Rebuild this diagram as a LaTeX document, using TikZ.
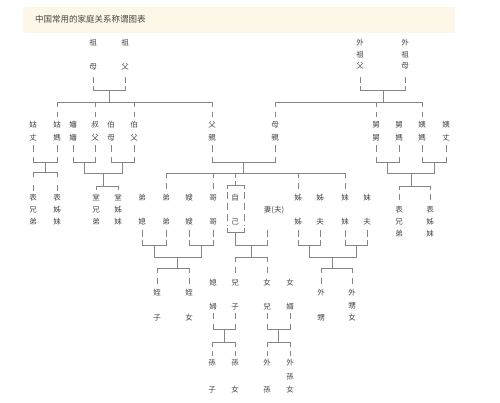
\documentclass[tikz,border=0pt]{standalone}
\usepackage{fontspec}
\newfontfamily\cjk{Noto Sans CJK SC}
\definecolor{band}{HTML}{FCF7E6}
\definecolor{ink}{HTML}{444444}
\definecolor{wire}{HTML}{858585}

\begin{document}
\begin{tikzpicture}[x=1pt,y=-1pt,
    kin/.style={font=\cjk\fontsize{7.5}{9}\selectfont, text=ink, inner sep=0pt, align=center},
    ln/.style={wire, line width=0.6pt}]
        \useasboundingbox (0,0) rectangle (500,403);
        \fill[band] (23,7) rectangle (455,33);
        \node[kin, font=\cjk\fontsize{8.5}{10}\selectfont, anchor=west] (title) at (35,19) {中国常用的家庭关系称谓图表};

        % grandparents
        \node[kin] (zm) at (93,55) {祖\\[15pt]母};
        \node[kin] (zf) at (125,55) {祖\\[15pt]父};
        \node[kin] (wzf) at (360,54.5) {外\\[2.5pt]祖\\[2.5pt]父};
        \node[kin] (wzm) at (405,54.5) {外\\[2.5pt]祖\\[2.5pt]母};

        % parents' generation
        \node[kin] (gz) at (33,131.5) {姑\\[4pt]丈};
        \node[kin] (gm) at (57,131.5) {姑\\[4pt]媽};
        \node[kin] (ss) at (73,131.5) {嬸\\[4pt]嬸};
        \node[kin] (sf) at (95,131.5) {叔\\[4pt]父};
        \node[kin] (bm) at (111,131.5) {伯\\[4pt]母};
        \node[kin] (bf) at (134,131.5) {伯\\[4pt]父};
        \node[kin] (fq) at (212,131.5) {父\\[4pt]親};
        \node[kin] (mq) at (275,131.5) {母\\[4pt]親};
        \node[kin] (jj) at (376,131.5) {舅\\[4pt]舅};
        \node[kin] (jm) at (399,131.5) {舅\\[4pt]媽};
        \node[kin] (ym) at (422,131.5) {姨\\[4pt]媽};
        \node[kin] (yz) at (446,131.5) {姨\\[4pt]丈};

        % cousins
        \node[kin] (bxl) at (33,210) {表\\[3pt]兄\\[3pt]弟};
        \node[kin] (bjl) at (57,210) {表\\[3pt]姊\\[3pt]妹};
        \node[kin] (txd) at (96,210) {堂\\[3pt]兄\\[3pt]弟};
        \node[kin] (tjm) at (118,210) {堂\\[3pt]姊\\[3pt]妹};
        \node[kin] (bxr) at (399,222) {表\\[3pt]兄\\[3pt]弟};
        \node[kin] (bjr) at (430,222) {表\\[3pt]姊\\[3pt]妹};

        % own generation
        \node[kin] (dx) at (142,210) {弟\\[15pt]媳};
        \node[kin] (dd) at (166,210) {弟\\[15pt]弟};
        \node[kin] (sao) at (189,210) {嫂\\[15pt]嫂};
        \node[kin] (gg) at (213,210) {哥\\[15pt]哥};
        \node[kin] (zj) at (235,210) {自\\[15pt]己};
        \node[kin] (qf) at (274,210) {妻(夫)};
        \node[kin] (jz) at (298,210) {姊\\[15pt]姊};
        \node[kin] (jf) at (320,210) {姊\\[15pt]夫};
        \node[kin] (mm) at (345,210) {妹\\[15pt]妹};
        \node[kin] (mf) at (367,210) {妹\\[15pt]夫};

        % children
        \node[kin] (zz) at (157,305.5) {姪\\[16pt]子};
        \node[kin] (zn) at (189,305.5) {姪\\[16pt]女};
        \node[kin] (xf) at (213,295) {媳\\[15pt]婦};
        \node[kin] (ez) at (235,295) {兒\\[15pt]子};
        \node[kin] (ne) at (267,295) {女\\[15pt]兒};
        \node[kin] (nx) at (290,295) {女\\[15pt]婿};
        \node[kin] (ws) at (321,305.5) {外\\[16pt]甥};
        \node[kin] (wsn) at (352,305.5) {外\\[3.5pt]甥\\[3.5pt]女};

        % grandchildren
        \node[kin] (sz) at (212,376.5) {孫\\[18pt]子};
        \node[kin] (sn) at (235,376.5) {孫\\[18pt]女};
        \node[kin] (wsu) at (267,376.5) {外\\[18pt]孫};
        \node[kin] (wsv) at (290,376.5) {外\\[4.5pt]孫\\[4.5pt]女};

        % father's side
        \draw[ln] (zm |- 0,77) -- (zm |- 0,83) (zf |- 0,77) -- (zf |- 0,83);
        \draw[ln] (zm |- 0,86) -- (zm |- 0,90) -- (zf |- 0,90) -- (zf |- 0,86);
        \draw[ln] (109,90) -- (109,102);
        \draw[ln] (gm |- 0,107) -- (gm |- 0,102) -- (fq |- 0,102) -- (fq |- 0,107);
        \draw[ln] (sf |- 0,102) -- (sf |- 0,107) (bf |- 0,102) -- (bf |- 0,107);
        \draw[ln] (gm |- 0,112) -- (gm |- 0,117) (sf |- 0,112) -- (sf |- 0,117)
                  (bf |- 0,112) -- (bf |- 0,117) (fq |- 0,112) -- (fq |- 0,117);

        % mother's side
        \draw[ln] (wzf |- 0,77) -- (wzf |- 0,83) (wzm |- 0,77) -- (wzm |- 0,83);
        \draw[ln] (wzf |- 0,86) -- (wzf |- 0,90) -- (wzm |- 0,90) -- (wzm |- 0,86);
        \draw[ln] (383,90) -- (383,102);
        \draw[ln] (mq |- 0,107) -- (mq |- 0,102) -- (ym |- 0,102) -- (ym |- 0,107);
        \draw[ln] (jj |- 0,102) -- (jj |- 0,107);
        \draw[ln] (mq |- 0,112) -- (mq |- 0,117) (jj |- 0,112) -- (jj |- 0,117) (ym |- 0,112) -- (ym |- 0,117);

        % couples of the parents' generation
        \draw[ln] (gz |- 0,145) -- (gz |- 0,152) (gm |- 0,145) -- (gm |- 0,152)
                  (ss |- 0,145) -- (ss |- 0,152) (sf |- 0,145) -- (sf |- 0,152)
                  (bm |- 0,145) -- (bm |- 0,152) (bf |- 0,145) -- (bf |- 0,152)
                  (fq |- 0,145) -- (fq |- 0,152) (mq |- 0,145) -- (mq |- 0,152)
                  (jj |- 0,145) -- (jj |- 0,152) (jm |- 0,145) -- (jm |- 0,152)
                  (ym |- 0,145) -- (ym |- 0,152) (yz |- 0,145) -- (yz |- 0,152);
        \draw[ln] (gz |- 0,157) -- (gz |- 0,162) -- (gm |- 0,162) -- (gm |- 0,157);
        \draw[ln] (ss |- 0,157) -- (ss |- 0,162) -- (sf |- 0,162) -- (sf |- 0,157);
        \draw[ln] (bm |- 0,157) -- (bm |- 0,162) -- (bf |- 0,162) -- (bf |- 0,157);
        \draw[ln] (fq |- 0,157) -- (fq |- 0,162) -- (mq |- 0,162) -- (mq |- 0,157);
        \draw[ln] (jj |- 0,157) -- (jj |- 0,162) -- (jm |- 0,162) -- (jm |- 0,157);
        \draw[ln] (ym |- 0,157) -- (ym |- 0,162) -- (yz |- 0,162) -- (yz |- 0,157);

        % cousins
        \draw[ln] (45,162) -- (45,172);
        \draw[ln] (bxl |- 0,177) -- (bxl |- 0,172) -- (bjl |- 0,172) -- (bjl |- 0,177);
        \draw[ln] (bxl |- 0,185) -- (bxl |- 0,191) (bjl |- 0,185) -- (bjl |- 0,191);
        \draw[ln] (84,162) -- (84,173) -- (122.5,173) -- (122.5,162);
        \draw[ln] (103,173) -- (103,186);
        \draw[ln] (txd |- 0,190) -- (txd |- 0,186) -- (tjm |- 0,186) -- (tjm |- 0,190);
        \draw[ln] (387.5,162) -- (387.5,173) -- (434,173) -- (434,162);
        \draw[ln] (411,173) -- (411,186);
        \draw[ln] (bxr |- 0,190) -- (bxr |- 0,186) -- (bjr |- 0,186) -- (bjr |- 0,190);
        \draw[ln] (bxr |- 0,194) -- (bxr |- 0,200) (bjr |- 0,194) -- (bjr |- 0,200);

        % brothers and sisters
        \draw[ln] (243.5,162) -- (243.5,173);
        \draw[ln] (dd |- 0,178) -- (dd |- 0,173) -- (mm |- 0,173) -- (mm |- 0,178);
        \draw[ln] (gg |- 0,173) -- (gg |- 0,178) (zj |- 0,173) -- (zj |- 0,178) (jz |- 0,173) -- (jz |- 0,178);
        \draw[ln] (dd |- 0,183) -- (dd |- 0,189) (gg |- 0,183) -- (gg |- 0,189)
                  (jz |- 0,183) -- (jz |- 0,189) (mm |- 0,183) -- (mm |- 0,189);
        \draw[ln] (zj |- 0,181) -- (zj |- 0,185);
        \draw[ln] (227,189) -- (227,185) -- (244,185) -- (244,189);
        \draw[ln] (227,228) -- (227,232) -- (244,232) -- (244,228);
        \draw[ln, dash pattern=on 7pt off 4pt] (227,192) -- (227,226) (244,192) -- (244,226);

        % couples of the own generation
        \draw[ln] (dx |- 0,230) -- (dx |- 0,237) (dd |- 0,230) -- (dd |- 0,237)
                  (sao |- 0,230) -- (sao |- 0,237) (gg |- 0,230) -- (gg |- 0,237)
                  (267,230) -- (267,237)
                  (jz |- 0,230) -- (jz |- 0,237) (jf |- 0,230) -- (jf |- 0,237)
                  (mm |- 0,230) -- (mm |- 0,237) (mf |- 0,230) -- (mf |- 0,237);
        \draw[ln] (dx |- 0,240) -- (dx |- 0,245) -- (dd |- 0,245) -- (dd |- 0,240);
        \draw[ln] (sao |- 0,240) -- (sao |- 0,245) -- (gg |- 0,245) -- (gg |- 0,240);
        \draw[ln] (zj |- 0,232) -- (zj |- 0,245) -- (267,245) -- (267,240);
        \draw[ln] (jz |- 0,240) -- (jz |- 0,245) -- (jf |- 0,245) -- (jf |- 0,240);
        \draw[ln] (mm |- 0,240) -- (mm |- 0,245) -- (mf |- 0,245) -- (mf |- 0,240);

        % nephews and nieces, own children
        \draw[ln] (154,245) -- (154,257) -- (201,257) -- (201,245);
        \draw[ln] (177.5,257) -- (177.5,268);
        \draw[ln] (zz |- 0,273) -- (zz |- 0,268) -- (zn |- 0,268) -- (zn |- 0,273);
        \draw[ln] (zz |- 0,278) -- (zz |- 0,284) (zn |- 0,278) -- (zn |- 0,284);
        \draw[ln] (251,245) -- (251,257);
        \draw[ln] (ez |- 0,262) -- (ez |- 0,257) -- (ne |- 0,257) -- (ne |- 0,262);
        \draw[ln] (ez |- 0,267) -- (ez |- 0,273) (ne |- 0,267) -- (ne |- 0,273);
        \draw[ln] (309,245) -- (309,257) -- (356,257) -- (356,245);
        \draw[ln] (332.5,257) -- (332.5,268);
        \draw[ln] (ws |- 0,273) -- (ws |- 0,268) -- (wsn |- 0,268) -- (wsn |- 0,273);
        \draw[ln] (ws |- 0,278) -- (ws |- 0,284) (wsn |- 0,278) -- (wsn |- 0,284);

        % grandchildren
        \draw[ln] (xf |- 0,313) -- (xf |- 0,319) (ez |- 0,313) -- (ez |- 0,319)
                  (ne |- 0,313) -- (ne |- 0,319) (nx |- 0,313) -- (nx |- 0,319);
        \draw[ln] (xf |- 0,324) -- (xf |- 0,329) -- (ez |- 0,329) -- (ez |- 0,324);
        \draw[ln] (ne |- 0,324) -- (ne |- 0,329) -- (nx |- 0,329) -- (nx |- 0,324);
        \draw[ln] (224,329) -- (224,342) (278.5,329) -- (278.5,342);
        \draw[ln] (sz |- 0,347) -- (sz |- 0,342) -- (sn |- 0,342) -- (sn |- 0,347);
        \draw[ln] (wsu |- 0,347) -- (wsu |- 0,342) -- (wsv |- 0,342) -- (wsv |- 0,347);
        \draw[ln] (sz |- 0,351) -- (sz |- 0,356) (sn |- 0,351) -- (sn |- 0,356)
                  (wsu |- 0,351) -- (wsu |- 0,356) (wsv |- 0,351) -- (wsv |- 0,356);
    \end{tikzpicture}
\end{document}
